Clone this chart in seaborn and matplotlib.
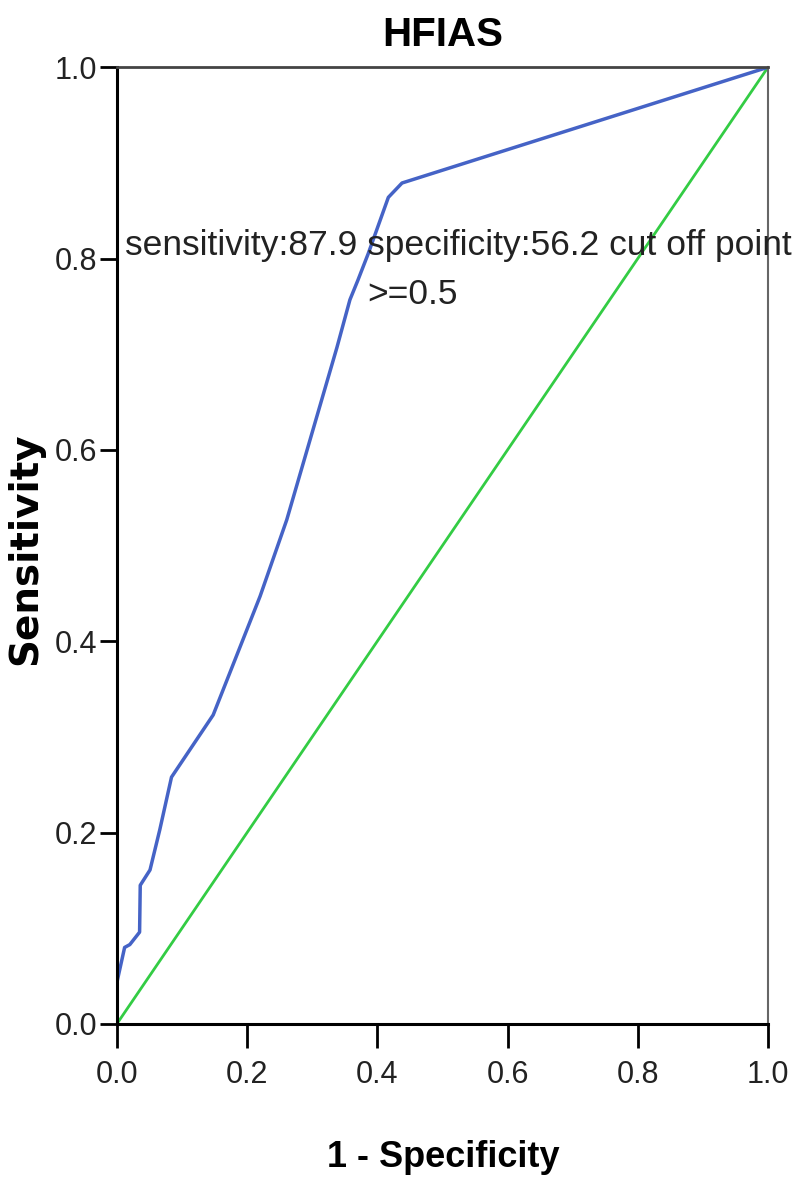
import matplotlib
matplotlib.use("Agg")
import matplotlib.pyplot as plt
import seaborn as sns
import pandas as pd

fpr = [0.0, 0.0, 0.012, 0.02, 0.035, 0.036, 0.051, 0.066, 0.084, 0.148, 0.22,
       0.261, 0.338, 0.358, 0.37, 0.386, 0.417, 0.438, 1.0]
tpr = [0.0, 0.043, 0.08, 0.083, 0.096, 0.145, 0.161, 0.203, 0.258, 0.323, 0.447,
       0.527, 0.707, 0.757, 0.777, 0.805, 0.864, 0.879, 1.0]
ref_x = [0.0, 1.0]
ref_y = [0.0, 1.0]
ticks = [0.0, 0.2, 0.4, 0.6, 0.8, 1.0]
tick_labels = ["0.0", "0.2", "0.4", "0.6", "0.8", "1.0"]
annot_line1 = "sensitivity:87.9 specificity:56.2 cut off point"
annot_line2 = ">=0.5"

sns.set_theme(style="white")
plt.rcParams['font.family'] = ['Liberation Sans', 'DejaVu Sans']

fig = plt.figure(figsize=(8, 11.9), dpi=100)
ax = fig.add_axes([0.146, 0.1395, 0.814, 0.804])

roc = pd.DataFrame({"fpr": fpr, "tpr": tpr})
ref = pd.DataFrame({"x": ref_x, "y": ref_y})
sns.lineplot(data=ref, x="x", y="y", ax=ax, color="#33CC44", lw=2, sort=False, estimator=None)
sns.lineplot(data=roc, x="fpr", y="tpr", ax=ax, color="#4563C6", lw=2.5, sort=False, estimator=None)

ax.set_xlim(0, 1)
ax.set_ylim(0, 1)
ax.set_xticks(ticks)
ax.set_yticks(ticks)
ax.set_xticklabels(tick_labels, fontsize=22)
ax.set_yticklabels(tick_labels, fontsize=22)
ax.tick_params(axis='x', direction='out', length=17, width=2, color='black',
               labelcolor='#222222', pad=9, bottom=True)
ax.tick_params(axis='y', direction='out', length=12, width=2, color='black',
               labelcolor='#222222', pad=2, left=True)
for s in ['left', 'bottom']:
    ax.spines[s].set_color('black')
    ax.spines[s].set_linewidth(2.2)
ax.spines['top'].set_color('#444444')
ax.spines['top'].set_linewidth(2)
ax.spines['right'].set_color('#666666')
ax.spines['right'].set_linewidth(1.5)

ax.set_xlabel("1 - Specificity", fontsize=26, fontweight='bold', color='black')
ax.set_ylabel("Sensitivity", fontsize=28, fontweight='bold', color='black',
              family=['DejaVu Sans'])
ax.xaxis.set_label_coords(0.501, -0.121)
ax.yaxis.set_label_coords(-0.111, 0.497)
ax.set_title("HFIAS", fontsize=29, fontweight='bold', pad=15, color='black')

ax.text(0.524, 0.814, annot_line1, ha='center', va='center', fontsize=25.5,
        color='#222222', clip_on=False)
ax.text(0.384, 0.762, annot_line2, ha='left', va='center', fontsize=25.5,
        color='#222222', clip_on=False)

fig.savefig("out.png", dpi=100)
